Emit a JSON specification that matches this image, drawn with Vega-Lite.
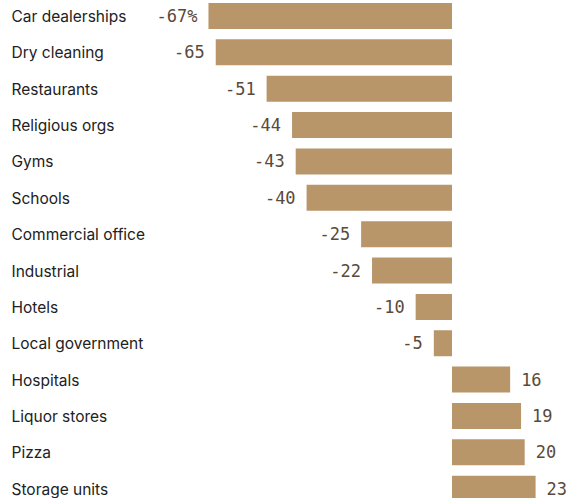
{
  "$schema": "https://vega.github.io/schema/vega-lite/v6.json",
  "width": 567,
  "height": 504.7,
  "autosize": {"type": "none"},
  "padding": 0,
  "background": "white",
  "config": {"view": {"stroke": null}},
  "data": {
    "values": [
      {"category": "Car dealerships", "value": -67, "label": "-67%"},
      {"category": "Dry cleaning", "value": -65, "label": "-65"},
      {"category": "Restaurants", "value": -51, "label": "-51"},
      {"category": "Religious orgs", "value": -44, "label": "-44"},
      {"category": "Gyms", "value": -43, "label": "-43"},
      {"category": "Schools", "value": -40, "label": "-40"},
      {"category": "Commercial office", "value": -25, "label": "-25"},
      {"category": "Industrial", "value": -22, "label": "-22"},
      {"category": "Hotels", "value": -10, "label": "-10"},
      {"category": "Local government", "value": -5, "label": "-5"},
      {"category": "Hospitals", "value": 16, "label": "16"},
      {"category": "Liquor stores", "value": 19, "label": "19"},
      {"category": "Pizza", "value": 20, "label": "20"},
      {"category": "Storage units", "value": 23, "label": "23"}
    ]
  },
  "encoding": {
    "y": {
      "field": "category",
      "type": "nominal",
      "sort": null,
      "scale": {"paddingInner": 0.285, "paddingOuter": 0.0825},
      "axis": {
        "title": null,
        "domain": false,
        "ticks": false,
        "labelAlign": "left",
        "labelPadding": -11,
        "labelOffset": 1,
        "labelFont": "Inter",
        "labelFontSize": 15.5,
        "labelColor": "#222222",
        "labelLimit": 0
      }
    },
    "x": {
      "field": "value",
      "type": "quantitative",
      "scale": {"domain": [-124.35, 31.64], "nice": false, "zero": false},
      "axis": null
    }
  },
  "layer": [
    {"mark": {"type": "bar", "color": "#b8966a"}},
    {
      "transform": [{"filter": "datum.value < 0"}],
      "mark": {"type": "text", "align": "right", "baseline": "middle", "dx": -11, "dy": 1, "font": "DejaVu Sans Mono", "fontSize": 17, "color": "#5a4a3b"},
      "encoding": {"text": {"field": "label"}}
    },
    {
      "transform": [{"filter": "datum.value > 0"}],
      "mark": {"type": "text", "align": "left", "baseline": "middle", "dx": 11, "dy": 1, "font": "DejaVu Sans Mono", "fontSize": 17, "color": "#5a4a3b"},
      "encoding": {"text": {"field": "label"}}
    }
  ]
}
